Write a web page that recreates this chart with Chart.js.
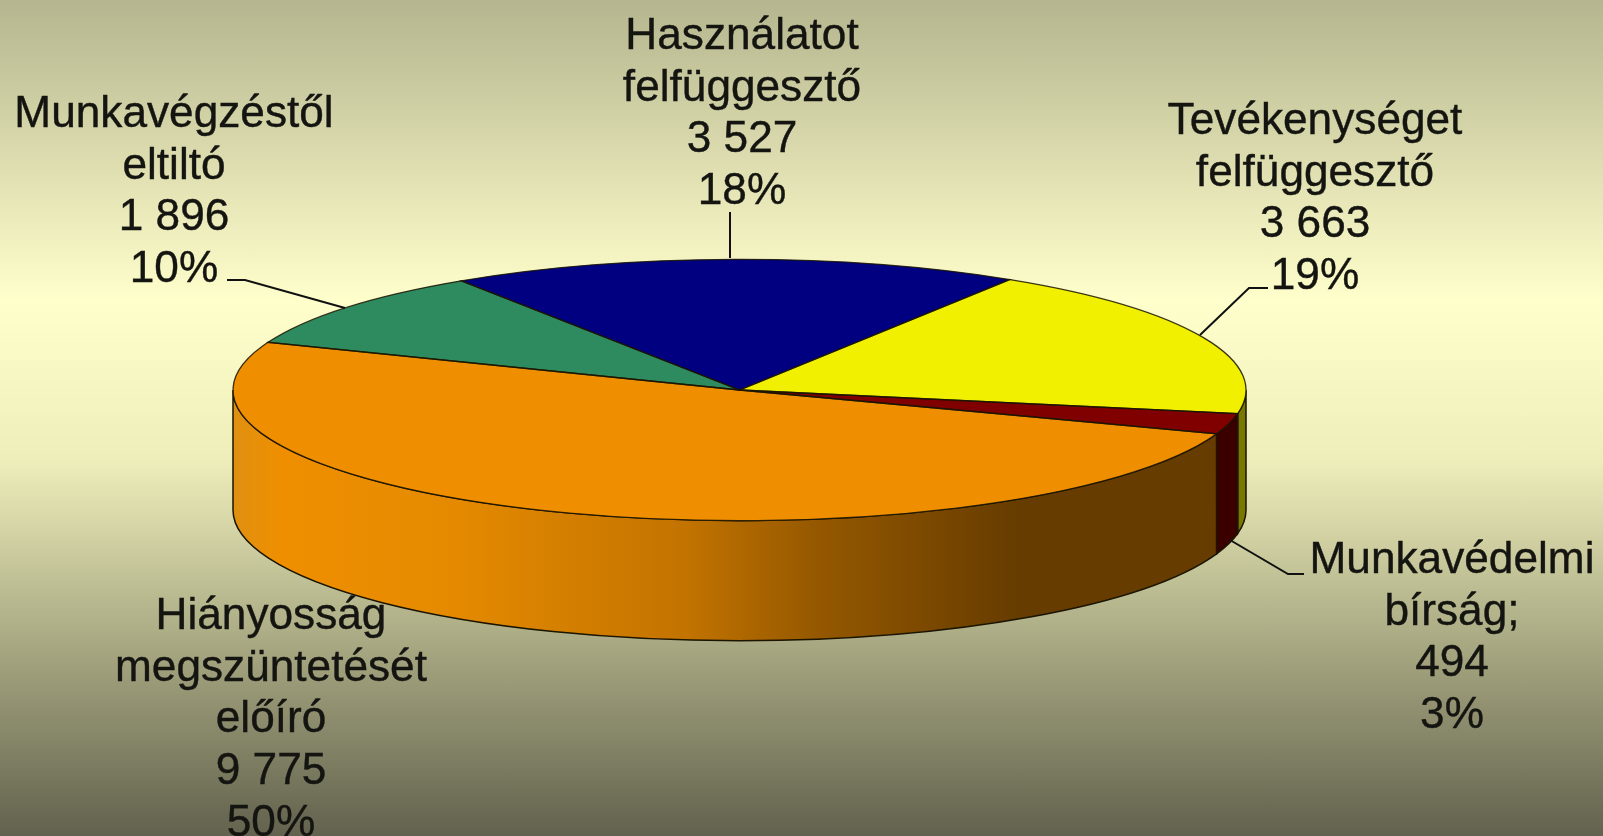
<!DOCTYPE html>
<html>
<head>
<meta charset="utf-8">
<title>Hatósági intézkedések</title>
<script src="https://cdn.jsdelivr.net/npm/chart.js@4/dist/chart.umd.min.js"></script>
<style>
    html, body { margin: 0; padding: 0; height: 100%; overflow: hidden; }
    body { background: linear-gradient(to bottom, #b5b58f 0%, #ffffcc 36%, #eeeebb 55%, #a5a580 78%, #62624e 100%); }
    #wrap { position: absolute; left: 0; top: 0; width: 1603px; height: 836px; }
</style>
</head>
<body>
<div id="wrap"><canvas id="myChart" width="1603" height="836"></canvas></div>
<script>
// adatok
var categories = [
    ['Hiányosság', 'megszüntetését', 'előíró'],
    ['Munkavégzéstől', 'eltiltó'],
    ['Használatot', 'felfüggesztő'],
    ['Tevékenységet', 'felfüggesztő'],
    ['Munkavédelmi', 'bírság;']
];
var values = [9775, 1896, 3527, 3663, 494];
var percents = ['50%', '10%', '18%', '19%', '3%'];
var topColors = ['#ef8f00', '#2e8b60', '#000080', '#f0f000', '#800000'];
var sideColors = [null, '#17452f', '#000040', '#787800', '#3a0000'];

// elrendezes
var tilt = 0.258;
var depth = 120;
var labelCenters = [271, 174, 742, 1315, 1452];
var labelBaselines = [629, 127, 49, 134, 573];
var lineGap = 51.7;
var leaders = [
    null,
    [[227, 280], [245, 280], [345, 308]],
    [[730, 212], [730, 258]],
    [[1268, 288], [1249, 288], [1200, 335]],
    [[1304, 574], [1288, 574], [1230, 540]]
];

function formatValue(v) {
    return String(v).replace(/\B(?=(\d{3})+$)/g, ' ');
}

var pie3d = {
    id: 'pie3d',
    beforeDatasetsDraw: function (chart) {
        var ctx = chart.ctx;
        var arcs = chart.getDatasetMeta(0).data;
        var cx = arcs[0].x, cy = arcs[0].y, rx = arcs[0].outerRadius, ry = rx * tilt;

        // oldalfal
        var grad = ctx.createLinearGradient(cx - rx, 0, cx + rx, 0);
        grad.addColorStop(0, '#df9012');
        grad.addColorStop(0.046, '#ef8f00');
        grad.addColorStop(0.217, '#e58a00');
        grad.addColorStop(0.448, '#c27300');
        grad.addColorStop(0.577, '#955800');
        grad.addColorStop(0.775, '#663c00');
        grad.addColorStop(1, '#663c00');

        ctx.save();
        ctx.lineWidth = 1.5;
        ctx.strokeStyle = '#1a1400';
        arcs.forEach(function (arc, i) {
            // a vegso szeletek szoge 2PI folott van
            [0, 2 * Math.PI].forEach(function (shift) {
                var a = Math.max(arc.startAngle - shift, 0);
                var b = Math.min(arc.endAngle - shift, Math.PI);
                if (b <= a) return;
                ctx.beginPath();
                ctx.ellipse(cx, cy, rx, ry, 0, a, b);
                ctx.ellipse(cx, cy + depth, rx, ry, 0, b, a, true);
                ctx.closePath();
                ctx.fillStyle = sideColors[i] || grad;
                ctx.fill();
                ctx.stroke();
            });
        });
        ctx.restore();

        // lapitott felso lap
        ctx.save();
        ctx.translate(cx, cy);
        ctx.scale(1, tilt);
        ctx.translate(-cx, -cy);
    },
    afterDatasetsDraw: function (chart) {
        var ctx = chart.ctx;
        ctx.restore();

        // korvonalak a lapitas utan, hogy ne vekonyodjanak el
        var arcs = chart.getDatasetMeta(0).data;
        ctx.save();
        ctx.lineWidth = 1.3;
        ctx.strokeStyle = 'rgba(26, 20, 0, 0.85)';
        arcs.forEach(function (arc) {
            var ry = arc.outerRadius * tilt;
            ctx.beginPath();
            ctx.moveTo(arc.x, arc.y);
            ctx.ellipse(arc.x, arc.y, arc.outerRadius, ry, 0, arc.startAngle, arc.endAngle);
            ctx.closePath();
            ctx.stroke();
        });
        ctx.restore();
    },
    afterDraw: function (chart) {
        var ctx = chart.ctx;
        ctx.save();
        ctx.strokeStyle = '#111';
        ctx.lineWidth = 2;
        leaders.forEach(function (pts) {
            if (!pts) return;
            ctx.beginPath();
            pts.forEach(function (p, j) {
                if (j === 0) ctx.moveTo(p[0], p[1]);
                else ctx.lineTo(p[0], p[1]);
            });
            ctx.stroke();
        });
        ctx.fillStyle = '#141410';
        ctx.strokeStyle = '#141410';
        ctx.lineWidth = 0.4;
        ctx.font = '44.2px "Liberation Sans", Arial, sans-serif';
        ctx.textAlign = 'center';
        ctx.textBaseline = 'alphabetic';
        categories.forEach(function (lines, i) {
            var rows = lines.concat([formatValue(values[i]), percents[i]]);
            rows.forEach(function (row, j) {
                var y = labelBaselines[i] + j * lineGap;
                ctx.fillText(row, labelCenters[i], y);
                ctx.strokeText(row, labelCenters[i], y);
            });
        });
        ctx.restore();
    }
};

var chart = new Chart(document.getElementById('myChart').getContext('2d'), {
    type: 'pie',
    data: {
        labels: categories.map(function (c) { return c.join(' '); }),
        datasets: [{
            data: values,
            backgroundColor: topColors,
            borderWidth: 0,
            clip: false
        }]
    },
    options: {
        responsive: false,
        animation: false,
        rotation: 109.6,
        radius: 506.5,
        layout: { padding: { right: 124, bottom: 56 } },
        plugins: { legend: { display: false }, tooltip: { enabled: false } }
    },
    plugins: [pie3d]
});
</script>
</body>
</html>
